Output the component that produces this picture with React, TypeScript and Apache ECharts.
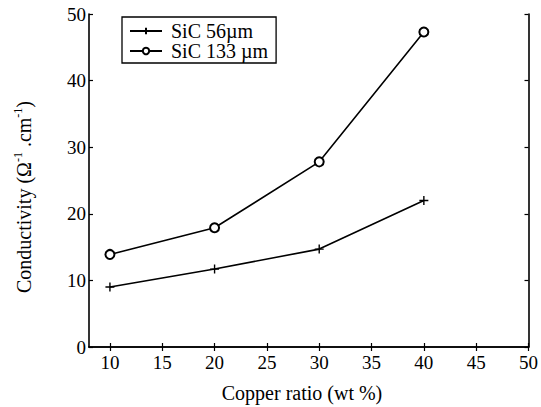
import React, { useEffect, useRef } from "react";
import * as echarts from "echarts";

const copperRatio = [10, 20, 30, 40];
const sic56 = [9.0, 11.7, 14.7, 22.0];
const sic133 = [13.9, 17.9, 27.8, 47.3];
const seriesNames = ["SiC 56µm", "SiC 133 µm"];
const xTicks = [10, 15, 20, 25, 30, 35, 40, 45, 50];
const xTitle = "Copper ratio (wt %)";

const FONT = "Liberation Serif";

export default function App() {
  const ref = useRef<HTMLDivElement>(null);
  useEffect(() => {
    if (!ref.current) return;
    const chart = echarts.init(ref.current, null, { renderer: "svg" });
    const axisLine = { show: true, lineStyle: { color: "#000", width: 1.6 } };
    const tickIn = { show: true, inside: true, length: 4, lineStyle: { color: "#000", width: 1.2 } };
    const labelStyle = { color: "#000", fontFamily: FONT, fontSize: 19 };
    chart.setOption({
      animation: false,
      backgroundColor: "#fff",
      grid: { left: 89, top: 14, right: 10, bottom: 60 },
      legend: {
        orient: "vertical",
        left: 122,
        top: 17,
        padding: [4, 8, 2, 7],
        itemGap: 0,
        itemWidth: 32,
        itemHeight: 8,
        borderColor: "#000",
        borderWidth: 1.3,
        textStyle: { color: "#000", fontFamily: FONT, fontSize: 20, lineHeight: 20, padding: [0, 0, 0, 4] },
        data: seriesNames,
      },
      xAxis: [
        {
          type: "value",
          min: 8,
          max: 50,
          axisLine,
          axisTick: { ...tickIn, customValues: xTicks },
          splitLine: { show: false },
          axisLabel: { ...labelStyle, margin: 6, customValues: xTicks },
        },
        {
          type: "value",
          position: "top",
          min: 8,
          max: 50,
          axisLine,
          axisTick: { ...tickIn, customValues: xTicks },
          axisLabel: { show: false },
          splitLine: { show: false },
        },
      ],
      yAxis: [
        {
          type: "value",
          min: 0,
          max: 50,
          interval: 10,
          axisLine,
          axisTick: tickIn,
          splitLine: { show: false },
          axisLabel: { ...labelStyle, margin: 3 },
        },
        {
          type: "value",
          position: "right",
          min: 0,
          max: 50,
          interval: 10,
          axisLine,
          axisTick: tickIn,
          splitLine: { show: false },
          axisLabel: { show: false },
        },
      ],
      series: [
        {
          name: seriesNames[0],
          type: "line",
          data: copperRatio.map((x, i) => [x, sic56[i]]),
          symbol: "path://M0,5L10,5M5,0L5,10",
          symbolSize: 9,
          itemStyle: { color: "#000", borderColor: "#000", borderWidth: 1.4 },
          lineStyle: { color: "#000", width: 1.6 },
        },
        {
          name: seriesNames[1],
          type: "line",
          data: copperRatio.map((x, i) => [x, sic133[i]]),
          symbol: "emptyCircle",
          symbolSize: 9,
          itemStyle: { color: "#000", borderColor: "#000", borderWidth: 1.3 },
          lineStyle: { color: "#000", width: 1.6 },
        },
      ],
      graphic: [
        {
          type: "text",
          x: 302,
          y: 393,
          style: {
            text: xTitle,
            fill: "#000",
            fontFamily: FONT,
            fontSize: 20,
            align: "center",
            verticalAlign: "middle",
          },
        },
        {
          type: "text",
          x: 23,
          y: 197,
          rotation: Math.PI / 2,
          style: {
            text: "{n|Conductivity (Ω}{s|-1}{n| .cm}{s|-1}{n|)}",
            fill: "#000",
            align: "center",
            verticalAlign: "middle",
            rich: {
              n: { fontFamily: FONT, fontSize: 20, fill: "#000", verticalAlign: "bottom", lineHeight: 22 },
              s: { fontFamily: FONT, fontSize: 12, fill: "#000", verticalAlign: "top", lineHeight: 22 },
            },
          },
        },
      ],
    });
    return () => chart.dispose();
  }, []);
  return <div ref={ref} style={{ width: 541, height: 407, position: "absolute", left: 0, top: 0 }} />;
}
